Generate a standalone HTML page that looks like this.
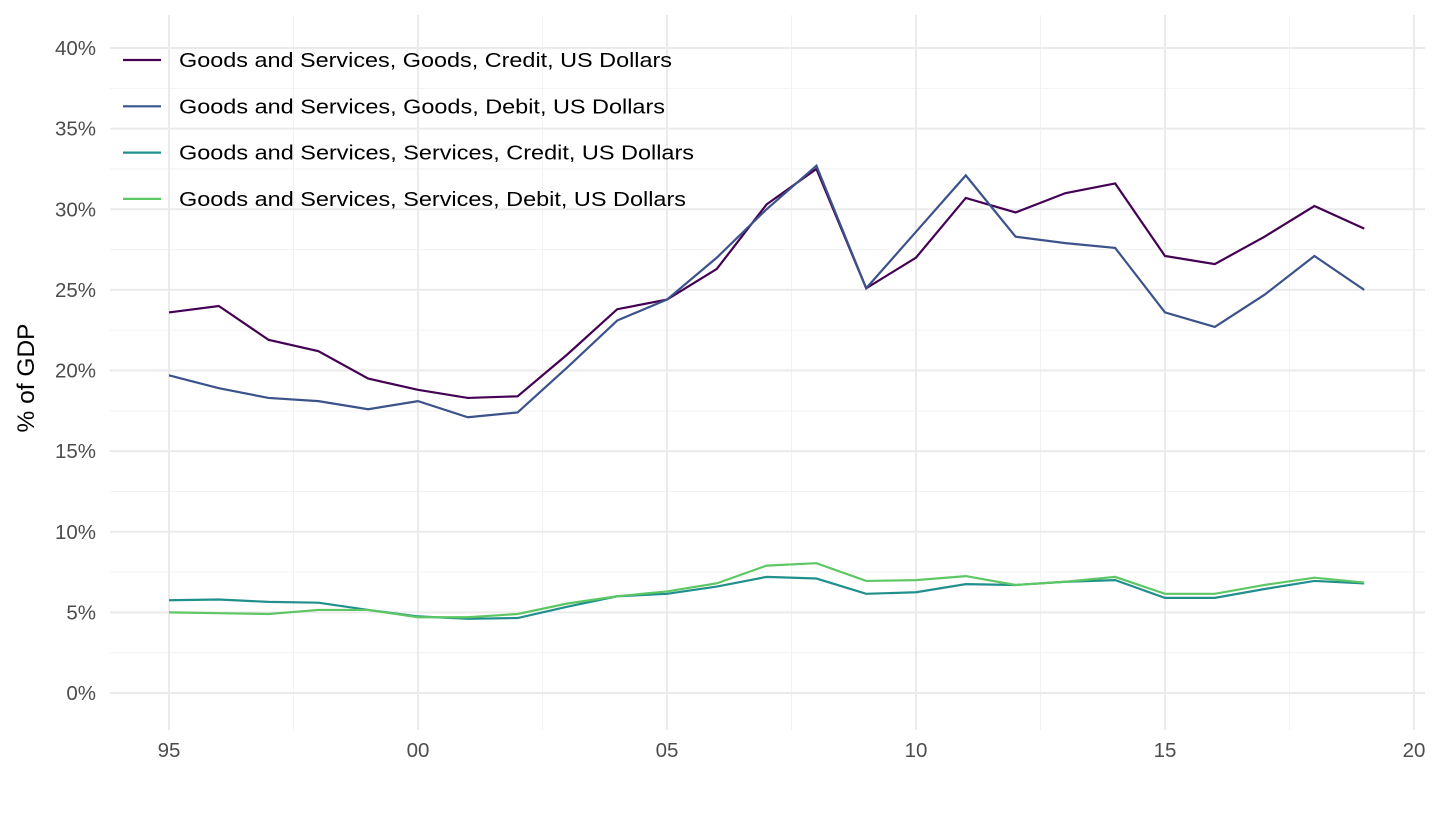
<!DOCTYPE html>
<html><head><meta charset="utf-8"><style>
body{margin:0;background:#fff;font-family:"Liberation Sans",Arial,sans-serif;}
</style></head><body>
<svg id="chart" width="1440" height="810" xmlns="http://www.w3.org/2000/svg" font-family="Liberation Sans, Arial, sans-serif">
<g id="grid"></g>
<g id="axes"></g>
<g id="series"></g>
<g id="legend"></g>
<text x="0" y="0" transform="translate(34,378) rotate(-90)" text-anchor="middle" font-size="24" fill="#000" textLength="109" lengthAdjust="spacingAndGlyphs">% of GDP</text>
</svg>
<script>
const years=[1995,1996,1997,1998,1999,2000,2001,2002,2003,2004,2005,2006,2007,2008,2009,2010,2011,2012,2013,2014,2015,2016,2017,2018,2019];
const goodsCredit=[23.6,24.0,21.9,21.2,19.5,18.8,18.3,18.4,21.0,23.8,24.4,26.3,30.3,32.5,25.1,27.0,30.7,29.8,31.0,31.6,27.1,26.6,28.3,30.2,28.8];
const goodsDebit=[19.7,18.9,18.3,18.1,17.6,18.1,17.1,17.4,20.2,23.1,24.4,27.0,30.0,32.7,25.1,28.6,32.1,28.3,27.9,27.6,23.6,22.7,24.7,27.1,25.0];
const servicesCredit=[5.75,5.8,5.65,5.6,5.15,4.75,4.6,4.65,5.35,6.0,6.15,6.6,7.2,7.1,6.15,6.25,6.75,6.7,6.9,7.0,5.9,5.9,6.45,6.95,6.8];
const servicesDebit=[5.0,4.95,4.9,5.15,5.15,4.7,4.7,4.9,5.55,6.0,6.3,6.8,7.9,8.05,6.95,7.0,7.25,6.7,6.9,7.2,6.15,6.15,6.7,7.15,6.85];
const seriesNames=["Goods and Services, Goods, Credit, US Dollars","Goods and Services, Goods, Debit, US Dollars","Goods and Services, Services, Credit, US Dollars","Goods and Services, Services, Debit, US Dollars"];
const yTicks=[0,5,10,15,20,25,30,35,40];
const xTicks=[1995,2000,2005,2010,2015,2020];
const xTickLabels=["95","00","05","10","15","20"];

const NS="http://www.w3.org/2000/svg";
const colors=["#440154","#3B528B","#21908C","#5DC863"];
const legendWidths=[493,486,515,507];
const X=v=>169+(v-1995)*49.8;
const Y=v=>693-v*16.125;
const L=110,R=1425,T=15,B=730;
function mk(tag,attrs,parent){const e=document.createElementNS(NS,tag);for(const k in attrs)e.setAttribute(k,attrs[k]);parent.appendChild(e);return e;}
const grid=document.getElementById('grid'),axes=document.getElementById('axes'),ser=document.getElementById('series'),leg=document.getElementById('legend');
for(let v=2.5;v<=40;v+=5){const l=mk('line',{x1:L,x2:R,y1:Y(v),y2:Y(v),stroke:'#f2f2f2','stroke-width':1},grid);

}
for(let v=1997.5;v<2020;v+=5){const l=mk('line',{x1:X(v),x2:X(v),y1:T,y2:B,stroke:'#f2f2f2','stroke-width':1},grid);

}
yTicks.forEach(v=>{const l=mk('line',{x1:L,x2:R,y1:Y(v),y2:Y(v),stroke:'#ebebeb','stroke-width':2},grid);


const t=mk('text',{x:96,y:Y(v)+7,'text-anchor':'end','font-size':20.5,fill:'#4d4d4d'},axes);


t.textContent=v+'%';});
xTicks.forEach((v,i)=>{const l=mk('line',{x1:X(v),x2:X(v),y1:T,y2:B,stroke:'#ebebeb','stroke-width':2},grid);


const t=mk('text',{x:X(v),y:757,'text-anchor':'middle','font-size':20.5,fill:'#4d4d4d'},axes);


t.textContent=xTickLabels[i];});
[goodsCredit,goodsDebit,servicesCredit,servicesDebit].forEach((d,i)=>{
const p=mk('polyline',{points:d.map((v,j)=>X(years[j])+','+Y(v)).join(' '),fill:'none',stroke:colors[i],'stroke-width':2.2},ser);


const y=60+i*46.3;
const g=mk('g',{},leg);


mk('line',{x1:123,x2:161,y1:y,y2:y,stroke:colors[i],'stroke-width':2.2},g);
const t=mk('text',{x:179,y:y+7,'font-size':20.5,fill:'#000',textLength:legendWidths[i],lengthAdjust:'spacingAndGlyphs'},g);
t.textContent=seriesNames[i];});
</script>
</body></html>
